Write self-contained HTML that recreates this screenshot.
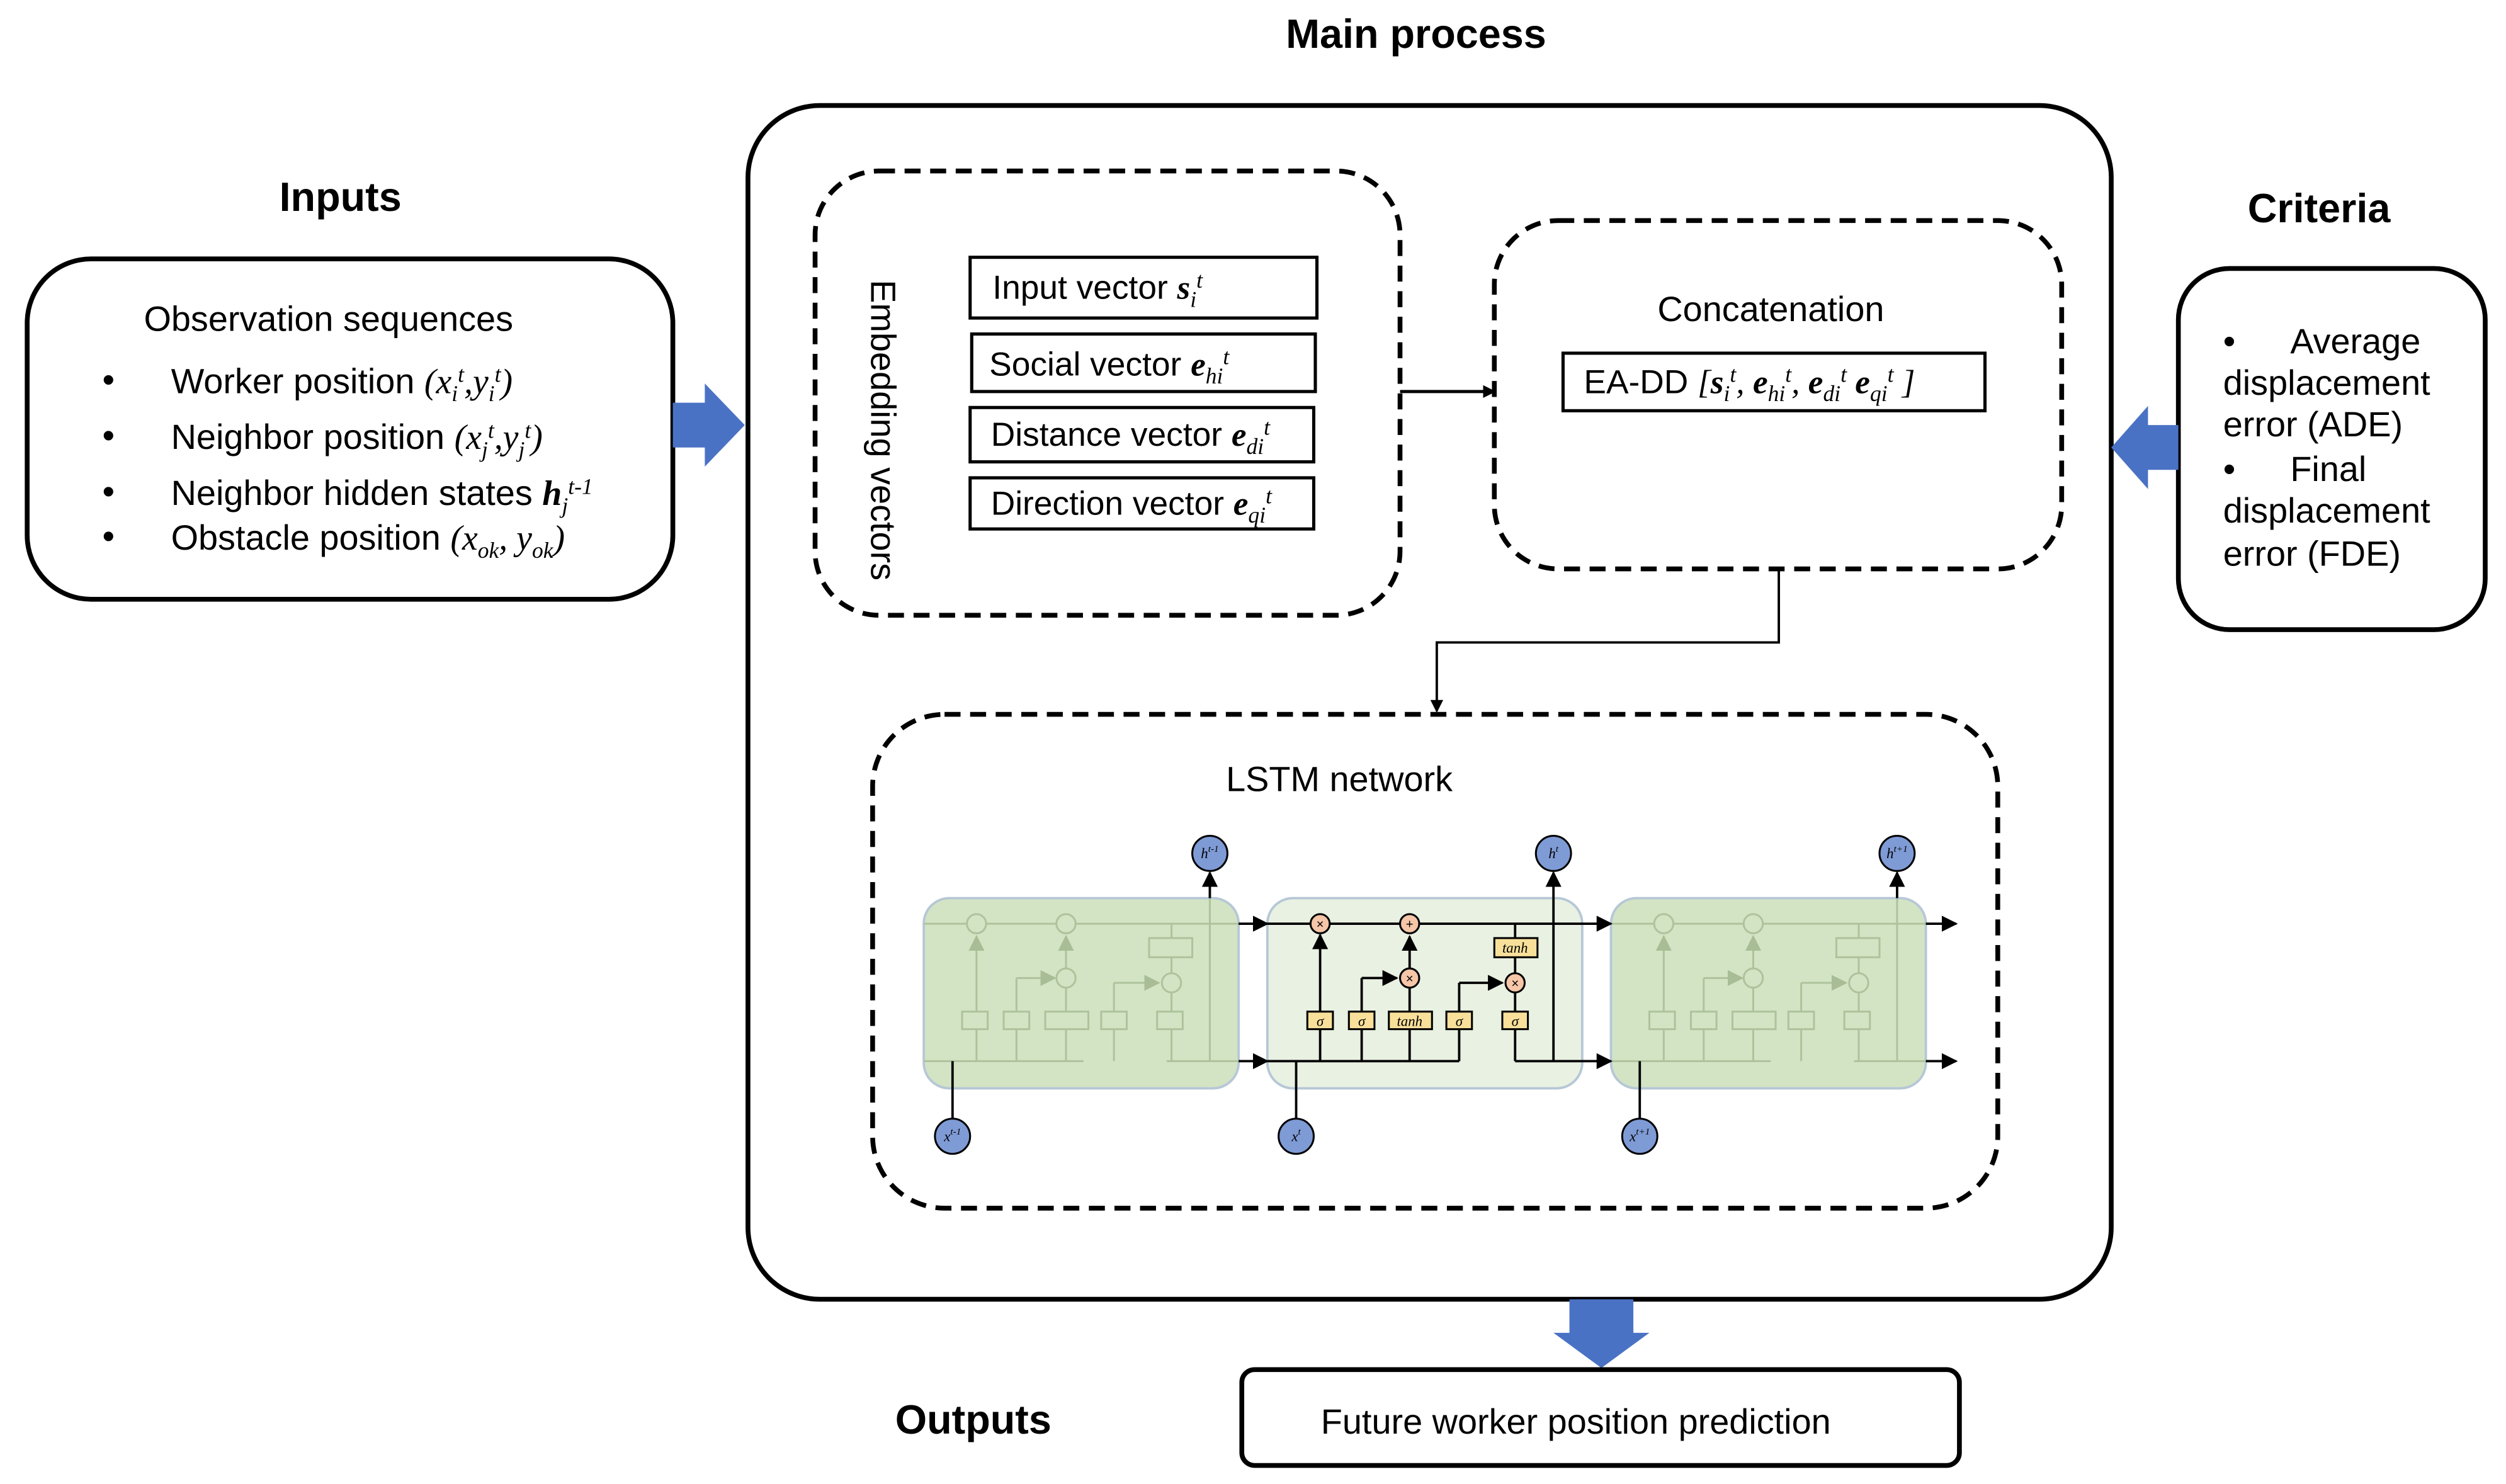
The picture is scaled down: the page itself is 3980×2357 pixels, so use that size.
<!DOCTYPE html>
<html><head><meta charset="utf-8"><style>
html,body{margin:0;padding:0;background:#fff;}
svg{display:block;}
text{font-family:"Liberation Sans",sans-serif;fill:#000;}
.m{font-family:"Liberation Serif",serif;font-style:italic;}
.b{font-weight:bold;}
</style></head><body>
<svg width="3980" height="2357" viewBox="0 0 1568 928.6" preserveAspectRatio="none" xmlns="http://www.w3.org/2000/svg">
<defs>
<marker id="ah" markerWidth="8" markerHeight="8" refX="7" refY="4" orient="auto" markerUnits="userSpaceOnUse"><path d="M0,0 L8,4 L0,8 z" fill="#000"/></marker>
<marker id="ahs" markerWidth="10" markerHeight="10" refX="9" refY="5" orient="auto" markerUnits="userSpaceOnUse"><path d="M0,0 L10,5 L0,10 z" fill="#000"/></marker>
<marker id="ahf" markerWidth="10" markerHeight="10" refX="9" refY="5" orient="auto" markerUnits="userSpaceOnUse"><path d="M0,0 L10,5 L0,10 z" fill="#a8bd95"/></marker>
</defs>
<rect width="1568" height="929" fill="#fff"/>

<!-- titles -->
<text x="886" y="30" font-size="25.5" class="b" text-anchor="middle">Main process</text>
<text x="213" y="132" font-size="25.5" class="b" text-anchor="middle">Inputs</text>
<text x="1451" y="139" font-size="25.5" class="b" text-anchor="middle">Criteria</text>
<text x="609" y="897" font-size="25.5" class="b" text-anchor="middle">Outputs</text>

<!-- main box -->
<rect x="468" y="66" width="853" height="747" rx="45" fill="none" stroke="#000" stroke-width="3"/>

<!-- inputs box -->
<rect x="17" y="162" width="404" height="213" rx="40" fill="none" stroke="#000" stroke-width="3"/>
<text x="90" y="207" font-size="22">Observation sequences</text>
<g font-size="22">
<text x="64" y="245">•</text><text x="107" y="246">Worker position <tspan class="m">(x<tspan font-size="14" dy="5">i</tspan><tspan font-size="14" dy="-12">t</tspan><tspan dy="7">,y</tspan><tspan font-size="14" dy="5">i</tspan><tspan font-size="14" dy="-12">t</tspan><tspan dy="7">)</tspan></tspan></text>
<text x="64" y="280">•</text><text x="107" y="281">Neighbor position <tspan class="m">(x<tspan font-size="14" dy="5">j</tspan><tspan font-size="14" dy="-12">t</tspan><tspan dy="7">,y</tspan><tspan font-size="14" dy="5">j</tspan><tspan font-size="14" dy="-12">t</tspan><tspan dy="7">)</tspan></tspan></text>
<text x="64" y="315">•</text><text x="107" y="316">Neighbor hidden states <tspan class="m" font-weight="bold">h</tspan><tspan class="m" font-size="14" dy="5">j</tspan><tspan class="m" font-size="14" dy="-12">t-1</tspan></text>
<text x="64" y="343">•</text><text x="107" y="344">Obstacle position <tspan class="m">(x<tspan font-size="14" dy="5">ok</tspan><tspan dy="-5">, y</tspan><tspan font-size="14" dy="5">ok</tspan><tspan dy="-5">)</tspan></tspan></text>
</g>

<path d="M421,252 L441,252 L441,240 L466,266 L441,292 L441,280 L421,280 z" fill="#4a72c4"/>

<!-- criteria box -->
<rect x="1363" y="168" width="192" height="226" rx="32" fill="none" stroke="#000" stroke-width="3"/>
<g font-size="22">
<text x="1391" y="221">•</text><text x="1433" y="221">Average</text>
<text x="1391" y="247">displacement</text>
<text x="1391" y="273">error (ADE)</text>
<text x="1391" y="301">•</text><text x="1433" y="301">Final</text>
<text x="1391" y="327">displacement</text>
<text x="1391" y="354">error (FDE)</text>
</g>
<path d="M1363,266 L1344,266 L1344,254 L1321,280 L1344,306 L1344,294 L1363,294 z" fill="#4a72c4"/>

<!-- embedding box -->
<rect x="510" y="107" width="366" height="278" rx="40" fill="none" stroke="#000" stroke-width="3" stroke-dasharray="10,6"/>
<text transform="translate(545,175) rotate(90)" font-size="22">Embedding vectors</text>
<g stroke="#000" stroke-width="2" fill="none">
<rect x="607" y="161" width="217" height="38"/>
<rect x="608" y="209" width="215" height="36"/>
<rect x="607" y="255" width="215" height="34"/>
<rect x="607" y="299" width="215" height="32"/>
</g>
<g font-size="21">
<text x="621" y="187">Input vector <tspan class="m b">s</tspan><tspan class="m" font-size="14" dy="5">i</tspan><tspan class="m" font-size="14" dy="-12">t</tspan></text>
<text x="619" y="235">Social vector <tspan class="m b">e</tspan><tspan class="m" font-size="14" dy="5">hi</tspan><tspan class="m" font-size="14" dy="-12">t</tspan></text>
<text x="620" y="279">Distance vector <tspan class="m b">e</tspan><tspan class="m" font-size="14" dy="5">di</tspan><tspan class="m" font-size="14" dy="-12">t</tspan></text>
<text x="620" y="322">Direction vector <tspan class="m b">e</tspan><tspan class="m" font-size="14" dy="5">qi</tspan><tspan class="m" font-size="14" dy="-12">t</tspan></text>
</g>
<line x1="876" y1="245" x2="935" y2="245" stroke="#000" stroke-width="2" marker-end="url(#ah)"/>

<!-- concatenation -->
<rect x="935" y="138" width="355" height="218" rx="40" fill="none" stroke="#000" stroke-width="3" stroke-dasharray="10,6"/>
<text x="1108" y="201" font-size="22" text-anchor="middle">Concatenation</text>
<rect x="978" y="221" width="264" height="36" fill="none" stroke="#000" stroke-width="2"/>
<text x="991" y="246" font-size="21">EA-DD <tspan class="m">[<tspan font-weight="bold">s</tspan><tspan font-size="14" dy="5">i</tspan><tspan font-size="14" dy="-12">t</tspan><tspan dy="7">, </tspan><tspan font-weight="bold">e</tspan><tspan font-size="14" dy="5">hi</tspan><tspan font-size="14" dy="-12">t</tspan><tspan dy="7">, </tspan><tspan font-weight="bold">e</tspan><tspan font-size="14" dy="5">di</tspan><tspan font-size="14" dy="-12">t</tspan><tspan dy="7"> </tspan><tspan font-weight="bold">e</tspan><tspan font-size="14" dy="5">qi</tspan><tspan font-size="14" dy="-12">t</tspan><tspan dy="7"> ]</tspan></tspan></text>

<polyline points="1113,356 1113,402 899,402 899,445" fill="none" stroke="#000" stroke-width="1.5" marker-end="url(#ah)"/>

<!-- LSTM box -->
<rect x="546" y="447" width="704" height="309" rx="45" fill="none" stroke="#000" stroke-width="3" stroke-dasharray="10,6"/>
<text x="838" y="495" font-size="22" text-anchor="middle">LSTM network</text>

<rect x="578" y="562" width="197" height="119" rx="16" fill="#d3e4c5" stroke="#b6c7d6" stroke-width="1.5"/>
<rect x="793" y="562" width="197" height="119" rx="16" fill="#e9f1e2" stroke="#b6c7d6" stroke-width="1.5"/>
<rect x="1008" y="562" width="197" height="119" rx="16" fill="#d3e4c5" stroke="#b6c7d6" stroke-width="1.5"/>

<g id="fc" stroke="#aec39c" stroke-width="1.2" fill="none">
<line x1="578" y1="578" x2="775" y2="578"/>
<line x1="578" y1="664" x2="678" y2="664"/>
<line x1="730" y1="664" x2="775" y2="664"/>
<line x1="611" y1="664" x2="611" y2="586" marker-end="url(#ahf)"/>
<line x1="636" y1="664" x2="636" y2="612"/><line x1="636" y1="612" x2="660" y2="612" marker-end="url(#ahf)"/>
<line x1="667" y1="664" x2="667" y2="586" marker-end="url(#ahf)"/>
<line x1="697" y1="664" x2="697" y2="615"/><line x1="697" y1="615" x2="725" y2="615" marker-end="url(#ahf)"/>
<line x1="733" y1="578" x2="733" y2="664"/>
<line x1="757" y1="664" x2="757" y2="562"/>
<circle cx="611" cy="578" r="6" fill="#d3e4c5"/><circle cx="667" cy="578" r="6" fill="#d3e4c5"/>
<circle cx="667" cy="612" r="6" fill="#d3e4c5"/><circle cx="733" cy="615" r="6" fill="#d3e4c5"/>
<rect x="602" y="633" width="16" height="11" fill="#d3e4c5"/><rect x="628" y="633" width="16" height="11" fill="#d3e4c5"/>
<rect x="654" y="633" width="27" height="11" fill="#d3e4c5"/><rect x="689" y="633" width="16" height="11" fill="#d3e4c5"/>
<rect x="724" y="633" width="16" height="11" fill="#d3e4c5"/><rect x="719" y="587" width="27" height="12" fill="#d3e4c5"/>
</g>
<use href="#fc" x="430"/>

<g stroke="#000" stroke-width="1.5" fill="none">
<line x1="775" y1="578" x2="793" y2="578" marker-end="url(#ahs)"/>
<line x1="775" y1="664" x2="793" y2="664" marker-end="url(#ahs)"/>
<line x1="793" y1="578" x2="1008" y2="578" marker-end="url(#ahs)"/>
<line x1="1205" y1="578" x2="1224" y2="578" marker-end="url(#ahs)"/>
<line x1="1205" y1="664" x2="1224" y2="664" marker-end="url(#ahs)"/>
<line x1="793" y1="664" x2="913" y2="664"/>
<line x1="948" y1="664" x2="1008" y2="664" marker-end="url(#ahs)"/>
<line x1="826" y1="664" x2="826" y2="585" marker-end="url(#ahs)"/>
<line x1="852" y1="664" x2="852" y2="612"/><line x1="852" y1="612" x2="874" y2="612" marker-end="url(#ahs)"/>
<line x1="882" y1="664" x2="882" y2="586" marker-end="url(#ahs)"/>
<line x1="913" y1="664" x2="913" y2="615"/><line x1="913" y1="615" x2="940" y2="615" marker-end="url(#ahs)"/>
<line x1="948" y1="578" x2="948" y2="664"/>
<line x1="972" y1="664" x2="972" y2="546" marker-end="url(#ahs)"/>
<line x1="757" y1="562" x2="757" y2="546" marker-end="url(#ahs)"/>
<line x1="1187" y1="562" x2="1187" y2="546" marker-end="url(#ahs)"/>
<line x1="596" y1="700" x2="596" y2="664"/>
<line x1="811" y1="700" x2="811" y2="664"/>
<line x1="1026" y1="700" x2="1026" y2="664"/>
</g>
<g stroke="#000" stroke-width="1.2" fill="#f5c6a8">
<circle cx="826" cy="578" r="6"/><circle cx="882" cy="578" r="6"/>
<circle cx="882" cy="612" r="6"/><circle cx="948" cy="615" r="6"/>
</g>
<g font-size="8" text-anchor="middle">
<text x="826" y="581">×</text><text x="882" y="581">+</text><text x="882" y="615">×</text><text x="948" y="618">×</text>
</g>
<g stroke="#000" stroke-width="1.2" fill="#f8e09a">
<rect x="818" y="633" width="16" height="11"/><rect x="844" y="633" width="16" height="11"/>
<rect x="869" y="633" width="27" height="11"/><rect x="905" y="633" width="16" height="11"/>
<rect x="940" y="633" width="16" height="11"/><rect x="935" y="587" width="27" height="12"/>
</g>
<g font-size="9" text-anchor="middle">
<text x="826" y="642" class="m">σ</text><text x="852" y="642" class="m">σ</text>
<text x="882" y="642" class="m">tanh</text><text x="913" y="642" class="m">σ</text>
<text x="948" y="642" class="m">σ</text><text x="948" y="596" class="m">tanh</text>
</g>
<g stroke="#000" stroke-width="1.2" fill="#7f9bd6">
<circle cx="757" cy="534" r="11"/><circle cx="972" cy="534" r="11"/><circle cx="1187" cy="534" r="11"/>
<circle cx="596" cy="711" r="11"/><circle cx="811" cy="711" r="11"/><circle cx="1026" cy="711" r="11"/>
</g>
<g font-size="9" text-anchor="middle">
<text x="757" y="537" class="m">h<tspan font-size="6" dy="-4">t-1</tspan></text>
<text x="972" y="537" class="m">h<tspan font-size="6" dy="-4">t</tspan></text>
<text x="1187" y="537" class="m">h<tspan font-size="6" dy="-4">t+1</tspan></text>
<text x="596" y="714" class="m">x<tspan font-size="6" dy="-4">t-1</tspan></text>
<text x="811" y="714" class="m">x<tspan font-size="6" dy="-4">t</tspan></text>
<text x="1026" y="714" class="m">x<tspan font-size="6" dy="-4">t+1</tspan></text>
</g>

<path d="M982,813 L1022,813 L1022,834 L1032,834 L1002,856 L972,834 L982,834 z" fill="#4a72c4"/>

<rect x="777" y="857" width="449" height="60" rx="8" fill="none" stroke="#000" stroke-width="3"/>
<text x="986" y="897" font-size="22" text-anchor="middle">Future worker position prediction</text>
</svg>
</body></html>
